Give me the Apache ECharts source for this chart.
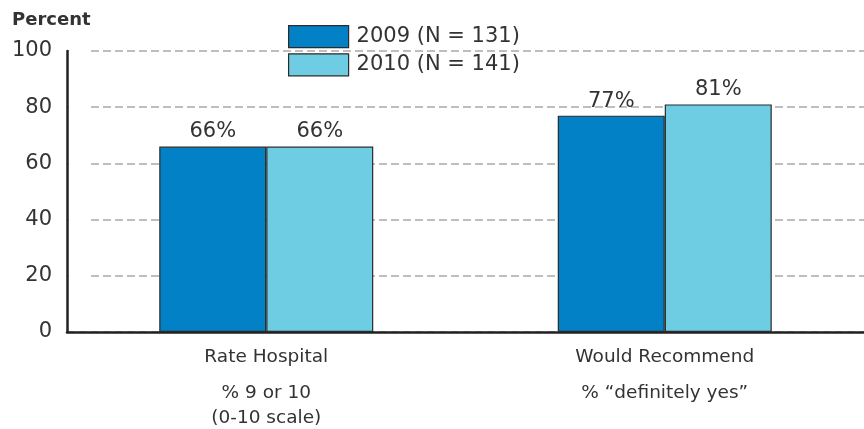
<!DOCTYPE html>
<html>
<head>
<meta charset="utf-8">
<script src="https://cdn.jsdelivr.net/npm/echarts@6/dist/echarts.min.js"></script>
<style>html,body{margin:0;padding:0;background:#fff}#c{width:864px;height:429px}</style>
</head>
<body>
<div id="c"></div>
<script>
const categories = ['Rate Hospital', 'Would Recommend'];
const subLabels = [['% 9 or 10', '(0-10 scale)'], ['% \u201cdefinitely yes\u201d']];
const seriesNames = ['2009 (N = 131)', '2010 (N = 141)'];
const values2009 = [66, 77];
const values2010 = [66, 81];
const yTicks = [0, 20, 40, 60, 80, 100];

const FONT = 'DejaVu Sans';
const TXT = '#333333';
const colors = ['#0281C7', '#6ECDE2'];

const chart = echarts.init(document.getElementById('c'), null, {renderer: 'canvas'});

function barSeries(name, data, color) {
  return {
    name: name,
    type: 'bar',
    data: data,
    barWidth: 107,
    barGap: '0%',
    itemStyle: {color: color, borderColor: '#2b2b2b', borderWidth: 1.2},
    label: {
      show: true, position: 'top', distance: 4,
      formatter: '{c}%', fontFamily: FONT, fontSize: 21, color: TXT
    }
  };
}

chart.setOption({
  animation: false,
  backgroundColor: '#ffffff',
  title: {
    text: 'Percent', left: 7, top: 6,
    textStyle: {fontFamily: FONT, fontWeight: 'bold', fontSize: 18, color: TXT}
  },
  legend: {
    orient: 'vertical', left: 283, top: 20, itemGap: 5,
    itemWidth: 60, itemHeight: 22,
    selectedMode: false,
    data: seriesNames.map((n, i) => ({name: n, icon: 'rect',
      itemStyle: {color: colors[i], borderColor: '#2b2b2b', borderWidth: 1.2}})),
    textStyle: {fontFamily: FONT, fontSize: 21, lineHeight: 22, color: TXT, padding: [0, 0, 0, 3]}
  },
  grid: {left: 67, right: -2, top: 51, bottom: 97, containLabel: false},
  xAxis: {
    type: 'category',
    data: categories,
    axisLine: {lineStyle: {color: '#222', width: 2.5}},
    axisTick: {show: false},
    axisLabel: {
      margin: 13,
      interval: 0,
      formatter: function (v, idx) {
        let s = '{a|' + v + '}\n{s| }';
        subLabels[idx].forEach(l => { s += '\n{b|' + l + '}'; });
        return s;
      },
      rich: {
        a: {fontFamily: FONT, fontSize: 18.5, color: TXT, lineHeight: 25},
        s: {fontSize: 4, lineHeight: 11},
        b: {fontFamily: FONT, fontSize: 18.5, color: TXT, lineHeight: 25}
      }
    }
  },
  yAxis: {
    type: 'value', min: yTicks[0], max: yTicks[yTicks.length - 1], interval: 20,
    axisLine: {show: true, lineStyle: {color: '#222', width: 2.5}},
    axisTick: {show: false},
    axisLabel: {margin: 15, fontFamily: FONT, fontSize: 21, color: TXT},
    splitLine: {show: true, lineStyle: {color: '#aaa9a4', width: 1.6, type: [8, 4]}}
  },
  graphic: [{
    type: 'rect', z: 5, silent: true,
    shape: {x: 69, y: 40, width: 18, height: 285},
    style: {fill: '#ffffff'}
  }],
  series: [
    barSeries(seriesNames[0], values2009, colors[0]),
    barSeries(seriesNames[1], values2010, colors[1])
  ]
});
</script>
</body>
</html>
